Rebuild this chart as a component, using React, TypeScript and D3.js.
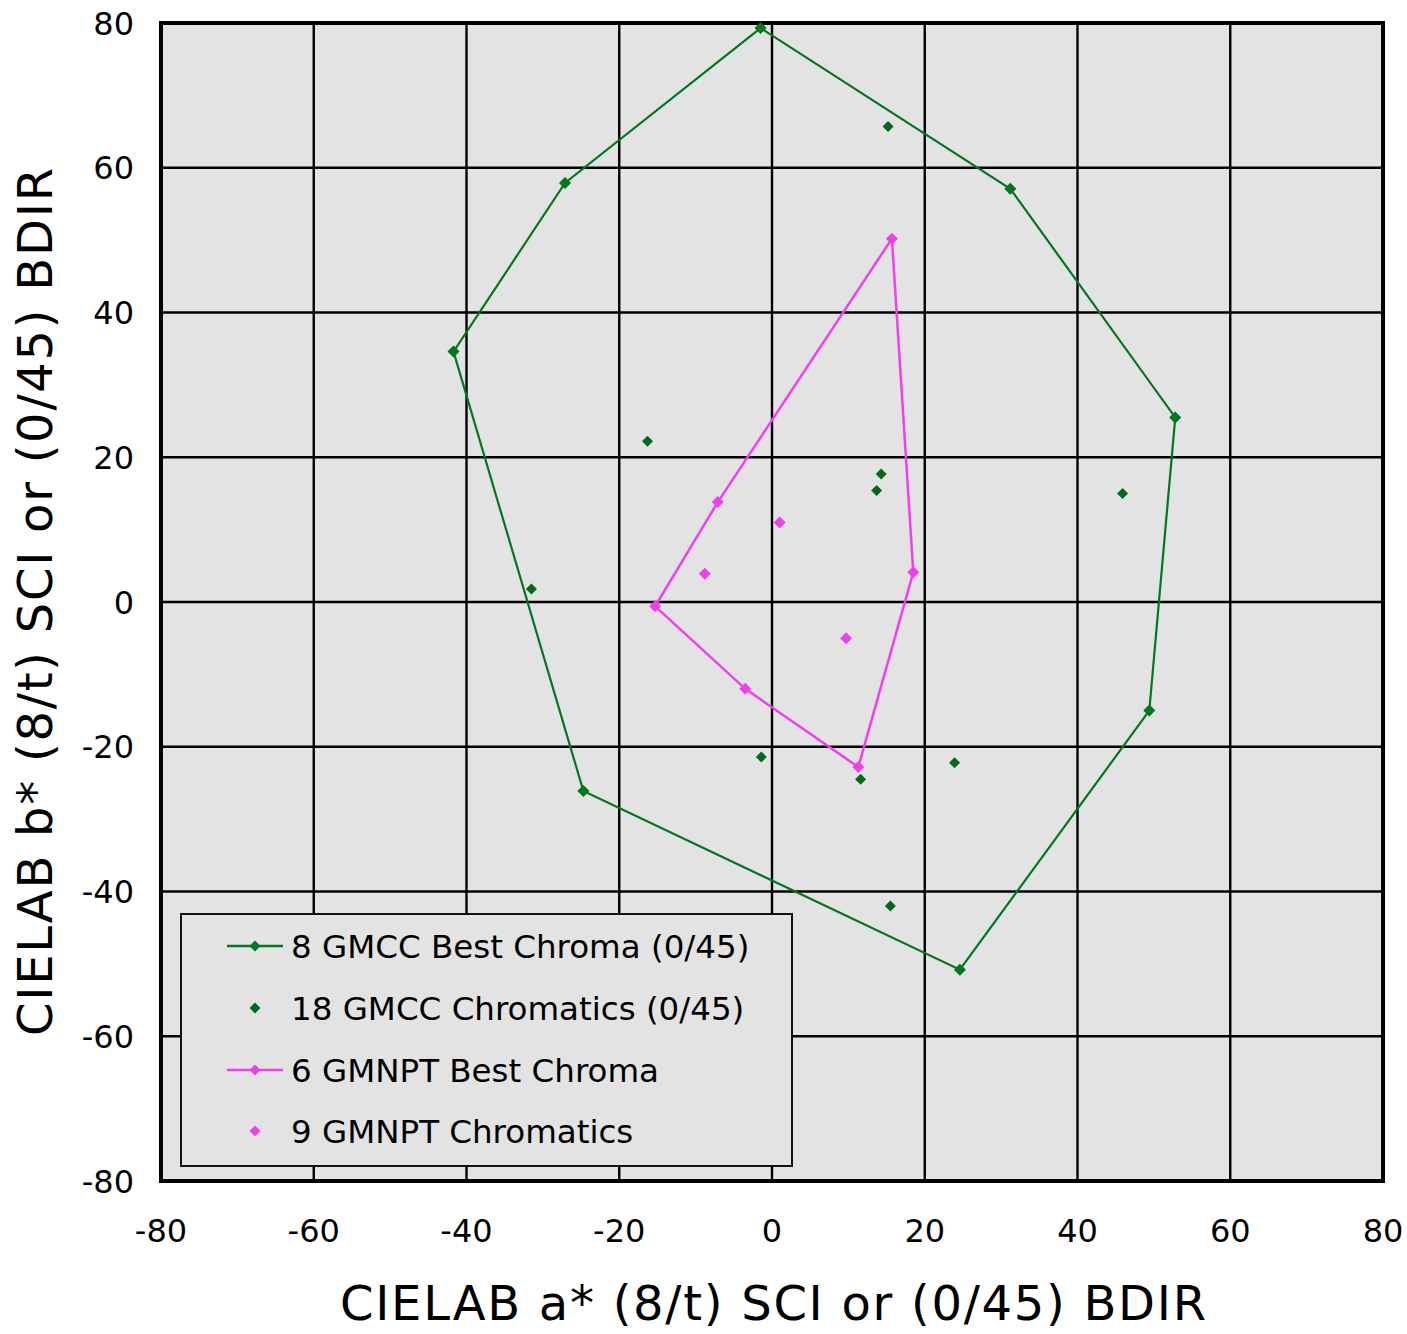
import React from "react";
import * as d3 from "d3";

type P = [number, number];

const xTicks = [-80, -60, -40, -20, 0, 20, 40, 60, 80];
const yTicks = [-80, -60, -40, -20, 0, 20, 40, 60, 80];

// 8 GMCC Best Chroma (0/45) – closed polygon vertices
const gmccBest: P[] = [
  [-1.5, 79.3],
  [31.2, 57.1],
  [52.8, 25.5],
  [49.4, -15.0],
  [24.6, -50.8],
  [-24.7, -26.1],
  [-41.7, 34.6],
  [-27.1, 57.9],
];

// 18 GMCC Chromatics (0/45) – the 8 vertices plus 10 interior points
const gmccChromaticsExtra: P[] = [
  [15.2, 65.7],
  [-16.3, 22.2],
  [14.3, 17.7],
  [13.7, 15.4],
  [45.9, 15.0],
  [-31.5, 1.8],
  [-1.4, -21.4],
  [11.6, -24.5],
  [23.9, -22.2],
  [15.5, -42.0],
];
const gmccChromatics: P[] = [...gmccBest, ...gmccChromaticsExtra];

// 6 GMNPT Best Chroma – closed polygon vertices
const gmnptBest: P[] = [
  [15.7, 50.2],
  [18.5, 4.1],
  [11.3, -22.8],
  [-3.5, -12.0],
  [-15.3, -0.6],
  [-7.1, 13.8],
];

// 9 GMNPT Chromatics – the 6 vertices plus 3 interior points
const gmnptChromaticsExtra: P[] = [
  [1.0, 11.0],
  [-8.8, 3.9],
  [9.7, -5.0],
];
const gmnptChromatics: P[] = [...gmnptBest, ...gmnptChromaticsExtra];

const legendItems = [
  { label: "8 GMCC Best Chroma (0/45)", kind: "line", color: "#00781e", mcolor: "#00781e" },
  { label: "18 GMCC Chromatics (0/45)", kind: "point", color: "#006a18", mcolor: "#006a18" },
  { label: "6 GMNPT Best Chroma", kind: "line", color: "#f040ee", mcolor: "#f040ee" },
  { label: "9 GMNPT Chromatics", kind: "point", color: "#f040ee", mcolor: "#f040ee" },
];

const W = 1407;
const H = 1334;
const L = 161, R = 1383, T = 23, B = 1181;
const FONT = "'DejaVu Sans', Verdana, sans-serif";
const BG = "#e3e3e3";

const diamond = (cx: number, cy: number, r: number) =>
  `M${cx},${cy - r}L${cx + r},${cy}L${cx},${cy + r}L${cx - r},${cy}Z`;

export default function App() {
  const x = d3.scaleLinear().domain([-80, 80]).range([L, R]);
  const y = d3.scaleLinear().domain([-80, 80]).range([B, T]);
  const line = d3
    .line<P>()
    .x((d) => x(d[0]))
    .y((d) => y(d[1]))
    .curve(d3.curveLinearClosed);

  const legX = 181, legY = 914, legW = 611, legH = 252;
  const rowY = [946, 1008, 1070, 1131];

  return (
    <svg width={W} height={H} style={{ display: "block", position: "absolute", left: 0, top: 0 }}>
      <rect x={L} y={T} width={R - L} height={B - T} fill={BG} />
      {xTicks.map((t) => (
        <line key={"gx" + t} x1={x(t)} x2={x(t)} y1={T} y2={B} stroke="#000" strokeWidth={2.4} />
      ))}
      {yTicks.map((t) => (
        <line key={"gy" + t} x1={L} x2={R} y1={y(t)} y2={y(t)} stroke="#000" strokeWidth={2.4} />
      ))}
      <rect x={L} y={T} width={R - L} height={B - T} fill="none" stroke="#000" strokeWidth={4} />

      {/* GMCC polygon */}
      <path d={line(gmccBest) || ""} fill="none" stroke="#00781e" strokeWidth={2.2} />
      {gmccChromatics.map((p, i) => (
        <path key={"gc" + i} d={diamond(x(p[0]), y(p[1]), 5.5)} fill="#006a18" />
      ))}
      {gmccBest.map((p, i) => (
        <path key={"gb" + i} d={diamond(x(p[0]), y(p[1]), 6)} fill="#00781e" />
      ))}

      {/* GMNPT polygon */}
      <path d={line(gmnptBest) || ""} fill="none" stroke="#f040ee" strokeWidth={2.5} />
      {gmnptChromatics.map((p, i) => (
        <path key={"mc" + i} d={diamond(x(p[0]), y(p[1]), 6)} fill="#f040ee" />
      ))}

      {/* Legend */}
      <rect x={legX} y={legY} width={legW} height={legH} fill={BG} stroke="#111" strokeWidth={2} />
      {legendItems.map((it, i) => (
        <g key={"lg" + i}>
          {it.kind === "line" && (
            <line x1={227} x2={283} y1={rowY[i]} y2={rowY[i]} stroke={it.color} strokeWidth={2.5} />
          )}
          <path d={diamond(255, rowY[i], 5.5)} fill={it.mcolor} />
          <text x={291} y={rowY[i] + 11.5} fontFamily={FONT} fontSize={32.5} fill="#000">
            {it.label}
          </text>
        </g>
      ))}

      {/* Tick labels */}
      {xTicks.map((t) => (
        <text key={"tx" + t} x={x(t)} y={1242} textAnchor="middle" fontFamily={FONT} fontSize={32} fill="#000">
          {t}
        </text>
      ))}
      {yTicks.map((t) => (
        <text key={"ty" + t} x={134} y={y(t) + 11.5} textAnchor="end" fontFamily={FONT} fontSize={32} fill="#000">
          {t}
        </text>
      ))}

      {/* Axis titles */}
      <text
        x={773}
        y={1320}
        textAnchor="middle"
        fontFamily={FONT}
        fontSize={48}
        textLength={866}
        lengthAdjust="spacing"
        fill="#000"
      >
        CIELAB a* (8/t) SCI or (0/45) BDIR
      </text>
      <text
        transform={`translate(52,602) rotate(-90)`}
        x={0}
        y={0}
        textAnchor="middle"
        fontFamily={FONT}
        fontSize={48}
        textLength={868}
        lengthAdjust="spacing"
        fill="#000"
      >
        CIELAB b* (8/t) SCI or (0/45) BDIR
      </text>
    </svg>
  );
}
